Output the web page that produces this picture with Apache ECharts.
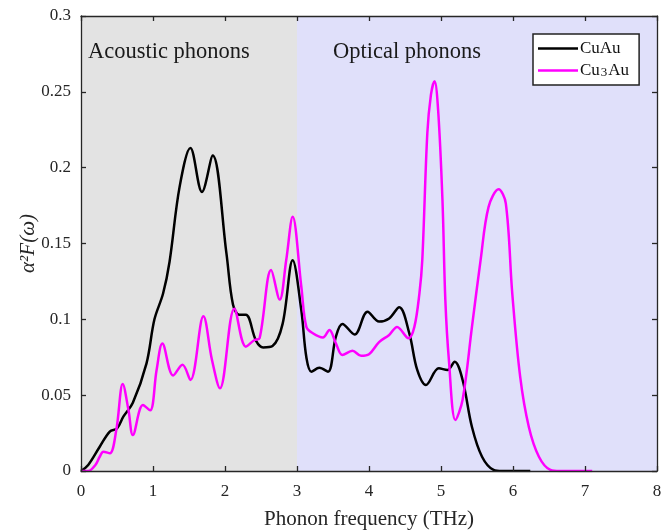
<!DOCTYPE html>
<html>
<head>
<meta charset="utf-8">
<script src="https://cdn.jsdelivr.net/npm/echarts@6/dist/echarts.min.js"></script>
<style>
  html, body { margin: 0; padding: 0; background: #fff; }
  #chart { width: 662px; height: 531px; }
</style>
</head>
<body>
<div id="chart"></div>
<script>
// 数据：频率 (THz) 与 α²F(ω)
var freqCuAu = [0, 0.1, 0.26, 0.4, 0.5, 0.59, 0.72, 0.91, 1.02, 1.14, 1.23, 1.37, 1.52, 1.68, 1.83, 2.02, 2.11, 2.2, 2.29, 2.43, 2.53, 2.66, 2.8, 2.94, 3.06, 3.13, 3.2, 3.31, 3.43, 3.54, 3.63, 3.8, 3.98, 4.14, 4.28, 4.42, 4.56, 4.67, 4.79, 4.97, 5.09, 5.19, 5.3, 5.43, 5.57, 5.73, 5.85, 6.24]
var alphaCuAu = [0, 0.004, 0.016, 0.026, 0.028, 0.036, 0.045, 0.071, 0.1, 0.117, 0.138, 0.1875, 0.213, 0.184, 0.208, 0.1435, 0.11, 0.103, 0.103, 0.086, 0.0815, 0.0824, 0.097, 0.139, 0.106, 0.075, 0.0655, 0.068, 0.0655, 0.0886, 0.097, 0.09, 0.105, 0.0985, 0.1006, 0.108, 0.0907, 0.0666, 0.0567, 0.0677, 0.0666, 0.072, 0.06, 0.029, 0.0094, 0.0007, 0, 0]

var freqCu3Au = [0, 0.1, 0.2, 0.26, 0.31, 0.4, 0.49, 0.58, 0.66, 0.72, 0.86, 0.96, 1.05, 1.13, 1.28, 1.41, 1.52, 1.7, 1.82, 1.93, 2.13, 2.29, 2.41, 2.48, 2.64, 2.76, 2.85, 2.94, 3.06, 3.13, 3.22, 3.36, 3.45, 3.54, 3.63, 3.77, 3.89, 4.0, 4.14, 4.28, 4.39, 4.55, 4.63, 4.7, 4.74, 4.81, 4.86, 4.91, 4.96, 5.02, 5.06, 5.11, 5.2, 5.3, 5.43, 5.55, 5.66, 5.8, 5.9, 5.99, 6.1, 6.22, 6.36, 6.52, 6.65, 7.1]
var alphaCu3Au = [0, 0, 0.004, 0.0094, 0.0127, 0.0117, 0.027, 0.0574, 0.04, 0.0237, 0.0435, 0.04, 0.0666, 0.084, 0.063, 0.07, 0.06, 0.102, 0.073, 0.0545, 0.107, 0.082, 0.0864, 0.0875, 0.1325, 0.113, 0.139, 0.1677, 0.1215, 0.095, 0.0908, 0.088, 0.093, 0.0842, 0.0765, 0.0793, 0.076, 0.077, 0.085, 0.0897, 0.095, 0.0875, 0.095, 0.117, 0.139, 0.2227, 0.248, 0.257, 0.238, 0.179, 0.113, 0.073, 0.0336, 0.047, 0.095, 0.139, 0.174, 0.1857, 0.1765, 0.117, 0.062, 0.029, 0.0094, 0.0007, 0, 0]

var xTicks = [0, 1, 2, 3, 4, 5, 6, 7, 8]
var yTicks = [0, 0.05, 0.1, 0.15, 0.2, 0.25, 0.3]

function pairs (xs, ys) {
  return xs.map(function (x, i) { return [x, ys[i]] })
}

var fontFam = '"Liberation Serif", "DejaVu Serif", serif'
var axisColor = '#262626'

// 四周的坐标轴（刻度朝内）
var tickAxis = function (extra) {
  return Object.assign({
    type: 'value',
    z: 10,
    axisLine: { show: true, onZero: false, lineStyle: { color: axisColor, width: 1.3 } },
    axisTick: { show: true, inside: true, length: 5, lineStyle: { color: axisColor, width: 1.3 } },
    splitLine: { show: false },
    axisLabel: { show: false }
  }, extra)
}

var myChart = echarts.init(document.getElementById('chart'))
var option = {
  animation: false,
  grid: { left: 81, right: 5, top: 16, bottom: 60, outerBoundsMode: 'none', containLabel: false },
  xAxis: [
    tickAxis({
      min: xTicks[0], max: xTicks[xTicks.length - 1], interval: 1,
      name: 'Phonon frequency (THz)',
      nameLocation: 'middle',
      nameGap: 38,
      nameMoveOverlap: false,
      nameTextStyle: { fontFamily: fontFam, fontSize: 21, color: axisColor },
      axisLabel: { show: true, margin: 12, fontFamily: fontFam, fontSize: 17, color: axisColor }
    }),
    tickAxis({ min: 0, max: 8, interval: 1, position: 'top' })
  ],
  yAxis: [
    tickAxis({
      min: yTicks[0], max: yTicks[yTicks.length - 1], interval: 0.05,
      name: 'α²F(ω)',
      nameLocation: 'middle',
      nameGap: 42,
      nameMoveOverlap: false,
      nameTextStyle: { fontFamily: fontFam, fontSize: 21, fontStyle: 'italic', color: axisColor },
      axisLabel: { show: true, margin: 10, fontFamily: fontFam, fontSize: 17, color: axisColor }
    }),
    tickAxis({ min: 0, max: 0.3, interval: 0.05, position: 'right' })
  ],
  legend: {
    orient: 'vertical',
    left: 533,
    top: 34,
    data: [{ name: 'CuAu', icon: 'rect' }, { name: 'Cu3Au', icon: 'rect' }],
    backgroundColor: '#fff',
    borderColor: '#222',
    borderWidth: 1.5,
    borderRadius: 0,
    padding: [6, 10, 6, 5],
    itemGap: 4,
    itemWidth: 40,
    itemHeight: 2.5,
    formatter: function (name) {
      return name === 'Cu3Au' ? 'Cu{s|3}Au' : name
    },
    textStyle: {
      fontFamily: fontFam, fontSize: 17, lineHeight: 17, color: '#111', padding: [0, 0, 0, -3],
      rich: { s: { fontFamily: fontFam, fontSize: 13, lineHeight: 17, verticalAlign: 'bottom', padding: [5, 1, 0, 1] } }
    }
  },
  graphic: [
    { type: 'text', z: 100, left: 88, top: 41, style: { text: 'Acoustic phonons', font: '22.5px ' + fontFam, fill: '#1a1a1a' } },
    { type: 'text', z: 100, left: 333, top: 41, style: { text: 'Optical phonons', font: '22.5px ' + fontFam, fill: '#1a1a1a' } }
  ],
  series: [
    {
      name: 'CuAu',
      type: 'line',
      data: pairs(freqCuAu, alphaCuAu),
      smooth: 0.35,
      symbol: 'none',
      z: 3,
      lineStyle: { color: '#000', width: 2.5 },
      itemStyle: { color: '#000' },
      markArea: {
        silent: true,
        data: [
          [{ xAxis: 0, itemStyle: { color: '#e3e3e3' } }, { xAxis: 3 }],
          [{ xAxis: 3, itemStyle: { color: '#e0e0fa' } }, { xAxis: 8 }]
        ]
      }
    },
    {
      name: 'Cu3Au',
      type: 'line',
      data: pairs(freqCu3Au, alphaCu3Au),
      smooth: 0.35,
      symbol: 'none',
      z: 4,
      lineStyle: { color: '#ff00ff', width: 2.5 },
      itemStyle: { color: '#ff00ff' }
    }
  ]
}
myChart.setOption(option)
</script>
</body>
</html>
